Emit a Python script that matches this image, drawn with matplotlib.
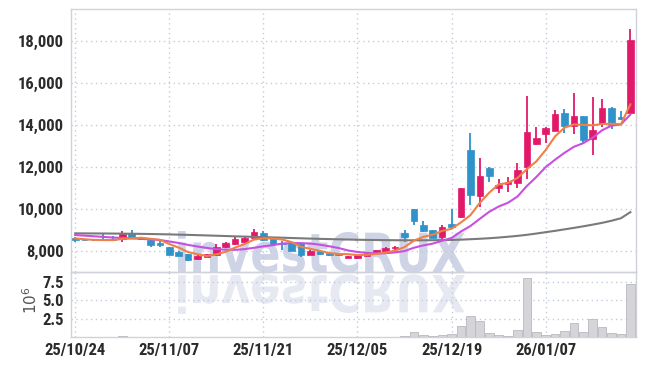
import matplotlib
matplotlib.use('Agg')
import matplotlib.pyplot as plt
from matplotlib import font_manager
from matplotlib.textpath import TextPath
from matplotlib.patches import PathPatch
from matplotlib.font_manager import FontProperties
from matplotlib.transforms import Affine2D
from matplotlib.ticker import FuncFormatter

# trading days shown on the chart (yy/mm/dd)
dates = ['25/10/24', '25/10/27', '25/10/28', '25/10/29', '25/10/30', '25/10/31',
         '25/11/03', '25/11/04', '25/11/05', '25/11/06', '25/11/07', '25/11/10',
         '25/11/11', '25/11/12', '25/11/13', '25/11/14', '25/11/17', '25/11/18',
         '25/11/19', '25/11/20', '25/11/21', '25/11/24', '25/11/25', '25/11/26',
         '25/11/27', '25/11/28', '25/12/01', '25/12/02', '25/12/03', '25/12/04',
         '25/12/05', '25/12/08', '25/12/09', '25/12/10', '25/12/11', '25/12/12',
         '25/12/15', '25/12/16', '25/12/17', '25/12/18', '25/12/19', '25/12/22',
         '25/12/23', '25/12/24', '25/12/26', '25/12/29', '25/12/30', '26/01/02',
         '26/01/05', '26/01/06', '26/01/07', '26/01/08', '26/01/09', '26/01/12',
         '26/01/13', '26/01/14', '26/01/15', '26/01/16', '26/01/19', '26/01/20']

opens = [8600, 8540, 8530, 8560, 8580, 8560, 8840, 8570, 8520, 8400,
         8180, 7970, 7840, 7620, 7730, 7810, 8180, 8320, 8410, 8630,
         8840, 8650, 8380, 8360, 8360, 7830, 8000, 7910, 7850, 7680,
         7690, 7780, 7890, 7940, 8130, 8870, 10000, 9240, 9000, 8660,
         9270, 9610, 12800, 10640, 11960, 11010, 11200, 11260, 11990, 13100,
         13590, 13730, 14580, 13970, 14420, 13330, 14030, 14830, 14380, 14570]
highs = [8650, 8580, 8560, 8800, 8700, 8950, 9000, 8660, 8540, 8480,
         8200, 7990, 7860, 7800, 7880, 8330, 8430, 8700, 8720, 9060,
         8950, 8670, 8480, 8400, 8380, 8040, 8020, 7930, 7880, 7780,
         7830, 7920, 8070, 8200, 8220, 9000, 10020, 9420, 9020, 9240,
         10000, 11000, 13600, 12440, 12020, 11410, 11540, 12180, 15400, 13890,
         13900, 14710, 14760, 15510, 14430, 15320, 15220, 14840, 14680, 18560]
lows = [8450, 8470, 8470, 8500, 8500, 8420, 8600, 8540, 8200, 8180,
        7800, 7760, 7540, 7560, 7700, 7780, 8150, 8300, 8390, 8610,
        8480, 8300, 8070, 7980, 7720, 7810, 7820, 7780, 7760, 7650,
        7620, 7760, 7870, 7900, 7950, 8440, 9240, 8900, 8620, 8560,
        9100, 9590, 10190, 10110, 11300, 10780, 10830, 10990, 11410, 13050,
        13160, 13700, 13610, 13560, 13160, 12570, 13900, 13800, 14250, 14570]
closes = [8500, 8500, 8500, 8540, 8540, 8800, 8640, 8630, 8290, 8290,
          7810, 7780, 7570, 7780, 7860, 8210, 8400, 8560, 8630, 8920,
          8520, 8330, 8330, 8020, 7810, 8020, 7850, 7820, 7790, 7760,
          7810, 7900, 8050, 8130, 8200, 8650, 9450, 8930, 8640, 9120,
          9140, 10980, 10650, 11560, 11550, 11130, 11290, 11850, 13660, 13380,
          13870, 14520, 13930, 14420, 13290, 13760, 14830, 13990, 14280, 18050]

# moving averages as drawn on the chart
ma5 = [8600, 8560, 8530, 8520, 8516, 8576, 8604, 8630, 8580, 8530,
       8332, 8160, 7948, 7846, 7760, 7840, 7964, 8162, 8332, 8544,
       8606, 8592, 8546, 8424, 8202, 8102, 8006, 7904, 7858, 7848,
       7806, 7816, 7862, 7930, 8018, 8186, 8496, 8672, 8774, 8958,
       9056, 9362, 9706, 10290, 10776, 11174, 11236, 11476, 11896, 12262,
       12810, 13456, 13872, 14024, 14006, 13984, 14046, 14058, 14030, 14982]
ma10 = [8760, 8730, 8700, 8670, 8640, 8620, 8600, 8580, 8555, 8523,
        8454, 8382, 8289, 8213, 8145, 8086, 8062, 8055, 8089, 8152,
        8223, 8278, 8354, 8378, 8373, 8354, 8299, 8225, 8141, 8025,
        7954, 7911, 7883, 7894, 7933, 7996, 8156, 8267, 8352, 8488,
        8621, 8929, 9189, 9532, 9867, 10115, 10299, 10591, 11093, 11519,
        11992, 12346, 12674, 12960, 13134, 13397, 13751, 13965, 14027, 14494]
ma60 = [8840, 8838, 8836, 8833, 8830, 8826, 8821, 8815, 8808, 8800,
        8790, 8779, 8767, 8754, 8740, 8726, 8712, 8698, 8685, 8672,
        8660, 8646, 8632, 8618, 8604, 8590, 8578, 8566, 8555, 8545,
        8536, 8528, 8522, 8517, 8513, 8510, 8509, 8510, 8513, 8518,
        8526, 8540, 8560, 8582, 8608, 8640, 8678, 8720, 8770, 8830,
        8895, 8960, 9030, 9100, 9175, 9255, 9340, 9440, 9560, 9850]

# volume in millions of shares
volume_mil = [0.03, 0.02, 0.02, 0.04, 0.03, 0.12, 0.05, 0.03, 0.03, 0.02,
              0.04, 0.03, 0.03, 0.02, 0.02, 0.03, 0.02, 0.03, 0.03, 0.04,
              0.03, 0.03, 0.02, 0.03, 0.03, 0.02, 0.02, 0.02, 0.02, 0.02,
              0.02, 0.02, 0.03, 0.03, 0.06, 0.12, 0.74, 0.30, 0.15, 0.30,
              0.40, 1.55, 2.90, 2.20, 0.60, 0.30, 0.15, 1.00, 8.00, 0.70,
              0.30, 0.45, 0.80, 1.95, 0.72, 2.45, 1.40, 0.60, 0.42, 7.20]

tick_every = 10

UP = '#e2196b'
DOWN = '#2f92c8'
GRID = '#c3cadc'
SPINE = '#cfd2da'

# pick a narrow font for the axis labels if one is around
label_prop = FontProperties(family='DejaVu Sans', weight='bold', size=10)
for fam, stretch in [('Liberation Sans Narrow', 'normal'), ('Roboto Condensed', 'normal'),
                     ('DejaVu Sans', 'condensed'), ('Open Sans', 'condensed'),
                     ('Noto Sans', 'condensed')]:
    fp = FontProperties(family=fam, weight='bold', stretch=stretch, size=12)
    try:
        path = font_manager.findfont(fp, fallback_to_default=False)
    except Exception:
        continue
    if 'ondensed' in path or 'Narrow' in path:
        label_prop = FontProperties(fname=path, size=12)
        break

fig = plt.figure(figsize=(6.45, 3.66), dpi=100, facecolor='white')

# watermark layer behind everything, in pixel coordinates
wm_ax = fig.add_axes([0, 0, 1, 1], zorder=-1)
wm_ax.set_xlim(0, 645)
wm_ax.set_ylim(366, 0)
wm_ax.axis('off')
tp = TextPath((0, 0), 'investCRUX', size=100,
              prop=FontProperties(family='DejaVu Sans', weight='bold'))
ext = tp.get_extents()
sx = (465 - 178) / ext.width
sy = (272 - 231) / ext.y1
main_tr = Affine2D().translate(-ext.x0, 0).scale(sx, -sy).translate(178, 272)
refl_tr = Affine2D().translate(-ext.x0, 0).scale(sx, sy * 0.95).translate(178, 275)
wm_ax.add_patch(PathPatch(main_tr.transform_path(tp), facecolor='#ced4e6', edgecolor='none'))
wm_ax.add_patch(PathPatch(refl_tr.transform_path(tp), facecolor='#e6e9f1', edgecolor='none'))

ax = fig.add_axes([71 / 645, 1 - 272 / 366, 565 / 645, 263 / 366])
vax = fig.add_axes([71 / 645, 1 - 337 / 366, 565 / 645, 65 / 366], sharex=ax)
for a in (ax, vax):
    a.set_facecolor('none')
    for s in a.spines.values():
        s.set_color(SPINE)
        s.set_linewidth(1)
    a.grid(True, linestyle=(0, (1, 2.5)), color=GRID, linewidth=1)
    a.set_axisbelow(True)
    a.tick_params(length=0, colors='#2b2b2b')

x = list(range(len(dates)))

# candles
for i in x:
    o, h, l, c = opens[i], highs[i], lows[i], closes[i]
    col = UP if c >= o else DOWN
    ax.vlines(i, l, h, color=col, linewidth=1.3, zorder=3)
    body = max(abs(c - o), 40)
    ax.bar(i, body, bottom=min(o, c), width=0.7, color=col, edgecolor=col,
           linewidth=0.5, zorder=4)

# moving averages
ax.plot(x, ma60, color='#7a7a7a', linewidth=1.5, zorder=5)
ax.plot(x, ma10, color='#c94fe0', linewidth=1.5, zorder=5)
ax.plot(x, ma5, color='#ee8048', linewidth=1.5, zorder=6)

ax.set_ylim(7000, 19520)
ax.set_yticks([8000, 10000, 12000, 14000, 16000, 18000])
ax.yaxis.set_major_formatter(FuncFormatter(lambda v, p: f'{int(v):,}'))
ax.set_xlim(-0.45, 59.6)
ax.tick_params(axis='x', labelbottom=False)

# volume
vax.bar(x, volume_mil, width=0.92, color='#d5d5d9', edgecolor='#b9b9c0',
        linewidth=0.6, zorder=3)
vax.set_ylim(0, 8.85)
vax.set_yticks([2.5, 5.0, 7.5])
vax.yaxis.set_major_formatter(FuncFormatter(lambda v, p: f'{v:.1f}'))
vax.set_xticks(x[::tick_every])
vax.set_xticklabels(dates[::tick_every])

# the 10^6 multiplier sits rotated left of the volume ticks
fig.text(31 / 645, 1 - 300 / 366, r'$\mathregular{10^6}$', rotation=90,
         ha='center', va='center', fontsize=11, color='#555555')

for lab in ax.get_yticklabels() + vax.get_yticklabels() + vax.get_xticklabels():
    lab.set_fontproperties(label_prop)
ax.tick_params(axis='y', pad=5)
vax.tick_params(axis='y', pad=5)
vax.tick_params(axis='x', pad=4)

fig.savefig('out.png', dpi=100, facecolor='white')
